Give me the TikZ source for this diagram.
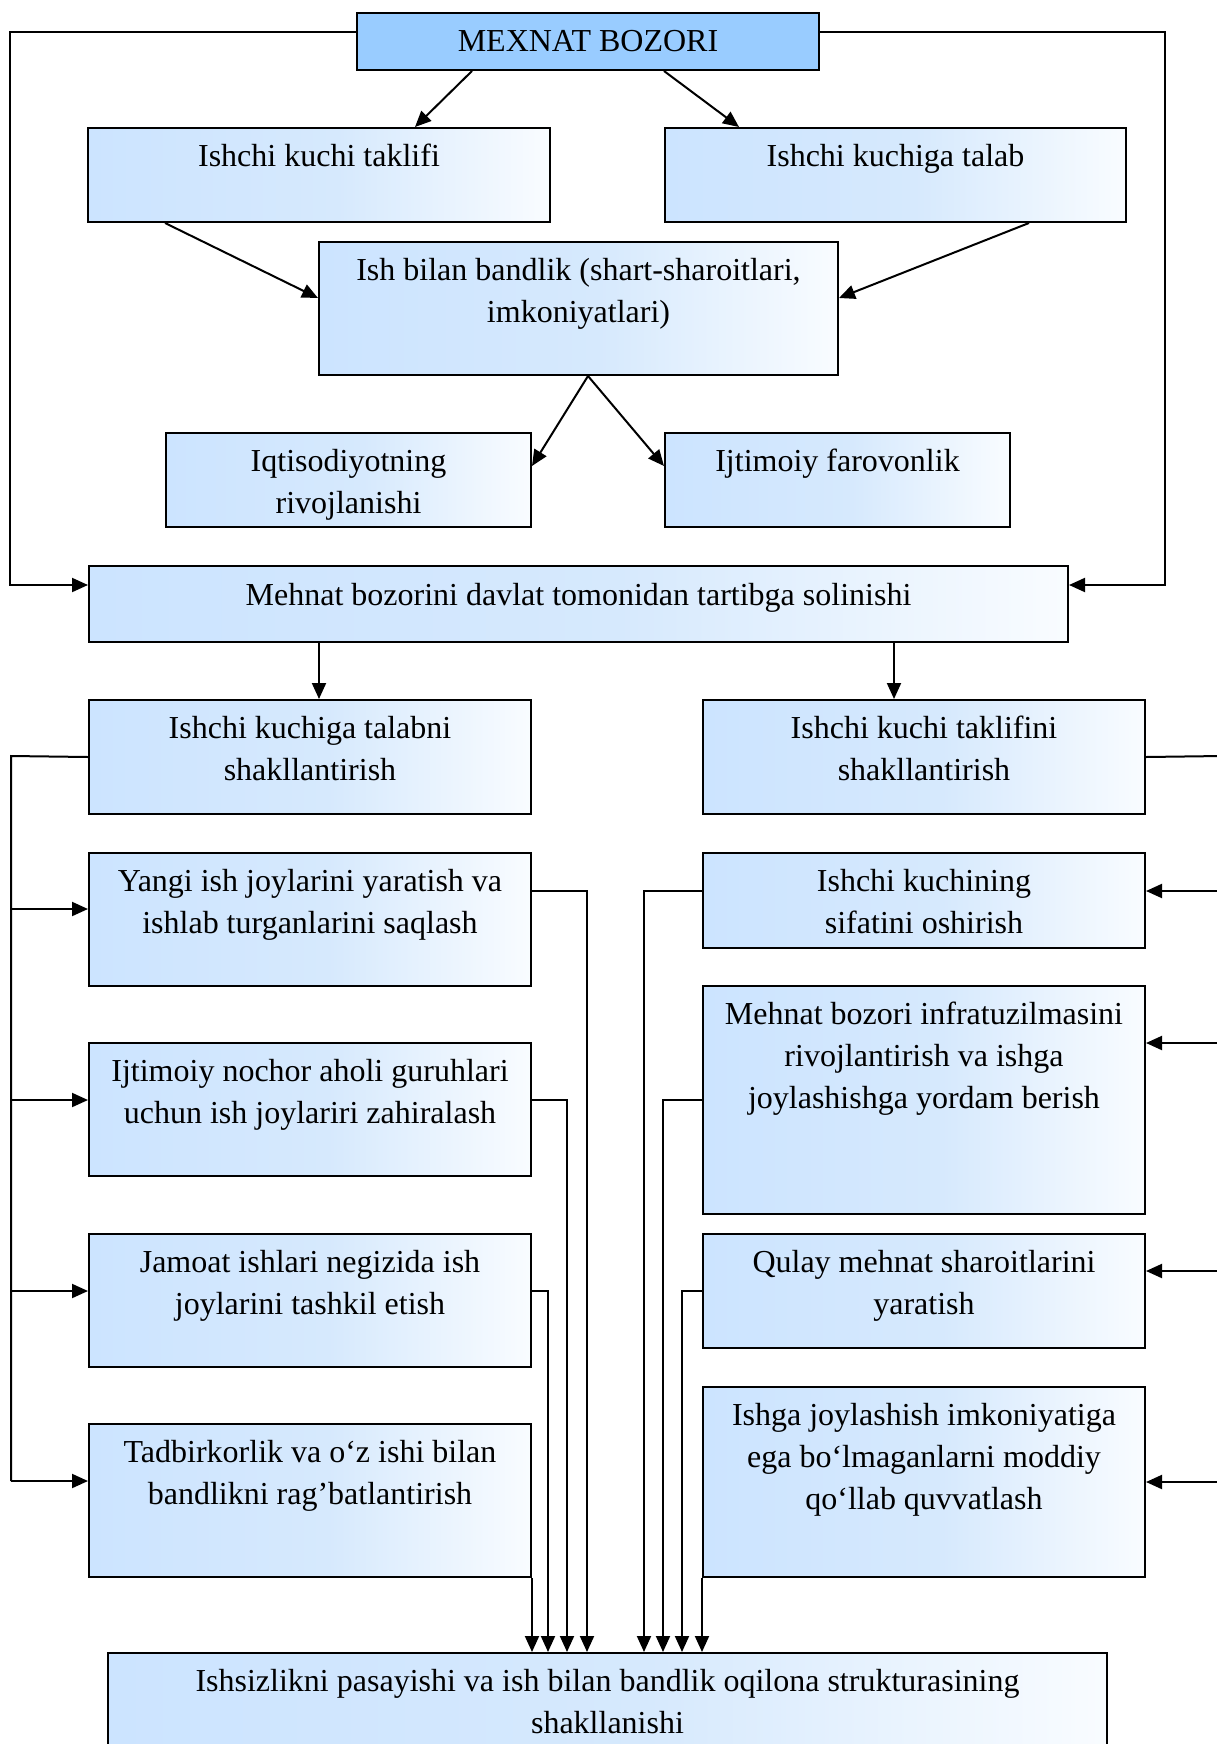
\documentclass[tikz,border=0pt]{standalone}
\usepackage{fontspec}
\setmainfont{Liberation Serif}
\usetikzlibrary{arrows.meta,calc}

\definecolor{boxL}{RGB}{204,228,255}
\definecolor{boxM}{RGB}{214,233,253}
\definecolor{boxR}{RGB}{249,252,255}
\definecolor{topfill}{RGB}{153,204,255}

% light blue fading to white, left to right
\pgfdeclarehorizontalshading{boxfade}{100bp}{%
  color(0bp)=(boxL); color(25bp)=(boxL); color(52bp)=(boxM);
  color(75bp)=(boxR); color(100bp)=(boxR)}

\tikzset{
  box/.style={draw=black, line width=2pt, shading=boxfade, rectangle,
              anchor=north west, inner sep=0pt},
  topbox/.style={draw=black, line width=2pt, fill=topfill, rectangle,
              anchor=north west, inner sep=0pt},
  lbl/.style={anchor=north, align=center, inner sep=0pt,
              font=\fontsize{32}{42}\selectfont},
  conn/.style={line width=2pt, draw=black},
  arr/.style={conn, -{Triangle[length=16pt,width=14pt]}},
}

\begin{document}
\begin{tikzpicture}[x=1pt, y=-1pt]
\useasboundingbox (0,0) rectangle (1217,1744);
\clip (0,0) rectangle (1217,1744);

% ---------- upper part ----------
\node[topbox, minimum width=462pt, minimum height=57pt] (top) at (356,12) {};
\node[lbl] (top-t) at ([yshift=-18pt]top.north) {MEXNAT BOZORI};

\node[box, minimum width=462pt, minimum height=94pt] (kt) at (87,127) {};
\node[lbl] (kt-t) at ([yshift=-17pt]kt.north) {Ishchi kuchi taklifi};

\node[box, minimum width=461pt, minimum height=94pt] (kd) at (664,127) {};
\node[lbl] (kd-t) at ([yshift=-17pt]kd.north) {Ishchi kuchiga talab};

\node[box, minimum width=519pt, minimum height=133pt] (ib) at (318,241) {};
\node[lbl] (ib-t) at ([yshift=-17pt]ib.north) {Ish bilan bandlik (shart-sharoitlari,\\ imkoniyatlari)};

\node[box, minimum width=365pt, minimum height=94pt] (iq) at (165,432) {};
\node[lbl] (iq-t) at ([yshift=-17pt]iq.north) {Iqtisodiyotning\\ rivojlanishi};

\node[box, minimum width=345pt, minimum height=94pt] (if) at (664,432) {};
\node[lbl] (if-t) at ([yshift=-17pt]if.north) {Ijtimoiy farovonlik};

\node[box, minimum width=979pt, minimum height=76pt] (md) at (88,565) {};
\node[lbl] (md-t) at ([yshift=-18pt]md.north) {Mehnat bozorini davlat tomonidan tartibga solinishi};

% ---------- two branches ----------
\node[box, minimum width=442pt, minimum height=114pt] (ts) at (88,699) {};
\node[lbl] (ts-t) at ([yshift=-17pt]ts.north) {Ishchi kuchiga talabni\\ shakllantirish};

\node[box, minimum width=442pt, minimum height=114pt] (tf) at (702,699) {};
\node[lbl] (tf-t) at ([yshift=-17pt]tf.north) {Ishchi kuchi taklifini\\ shakllantirish};

\node[box, minimum width=442pt, minimum height=133pt] (L1) at (88,852) {};
\node[lbl] (L1-t) at ([yshift=-17pt]L1.north) {Yangi ish joylarini yaratish va\\ ishlab turganlarini saqlash};

\node[box, minimum width=442pt, minimum height=133pt] (L2) at (88,1042) {};
\node[lbl] (L2-t) at ([yshift=-17pt]L2.north) {Ijtimoiy nochor aholi guruhlari\\ uchun ish joylariri zahiralash};

\node[box, minimum width=442pt, minimum height=133pt] (L3) at (88,1233) {};
\node[lbl] (L3-t) at ([yshift=-17pt]L3.north) {Jamoat ishlari negizida ish\\ joylarini tashkil etish};

\node[box, minimum width=442pt, minimum height=153pt] (L4) at (88,1423) {};
\node[lbl] (L4-t) at ([yshift=-17pt]L4.north) {Tadbirkorlik va o‘z ishi bilan\\ bandlikni rag’batlantirish};

\node[box, minimum width=442pt, minimum height=95pt] (R1) at (702,852) {};
\node[lbl] (R1-t) at ([yshift=-17pt]R1.north) {Ishchi kuchining\\ sifatini oshirish};

\node[box, minimum width=442pt, minimum height=228pt] (R2) at (702,985) {};
\node[lbl] (R2-t) at ([yshift=-17pt]R2.north) {Mehnat bozori infratuzilmasini\\ rivojlantirish va ishga\\ joylashishga yordam berish};

\node[box, minimum width=442pt, minimum height=114pt] (R3) at (702,1233) {};
\node[lbl] (R3-t) at ([yshift=-17pt]R3.north) {Qulay mehnat sharoitlarini\\ yaratish};

\node[box, minimum width=442pt, minimum height=190pt] (R4) at (702,1386) {};
\node[lbl] (R4-t) at ([yshift=-17pt]R4.north) {Ishga joylashish imkoniyatiga\\ ega bo‘lmaganlarni moddiy\\ qo‘llab quvvatlash};

\node[box, minimum width=999pt, minimum height=140pt] (bot) at (107,1652) {};
\node[lbl] (bot-t) at ([yshift=-17pt]bot.north) {Ishsizlikni pasayishi va ish bilan bandlik oqilona strukturasining\\ shakllanishi};

% ---------- connectors, upper part ----------
\draw[arr] ([xshift=116pt]top.south west) -- ([xshift=328pt]kt.north west);
\draw[arr] ([xshift=308pt]top.south west) -- ([xshift=75pt]kd.north west);
\draw[arr] ([xshift=78pt]kt.south west) -- ([yshift=-57pt]ib.north west);
\draw[arr] ([xshift=365pt]kd.south west) -- ([yshift=-57pt]ib.north east);
\coordinate (ibo) at ([xshift=9.5pt]ib.south);
\draw[arr] (ibo) -- ([yshift=-34pt]iq.north east);
\draw[arr] (ibo) -- ([yshift=-34pt]if.north west);

% side returns into the regulation box
\draw[arr] ([yshift=9.5pt]top.west) -- ++(-346,0) |- ([yshift=19pt]md.west);
\draw[arr] ([yshift=9.5pt]top.east) -- ++(345,0) |- ([yshift=19pt]md.east);

\draw[arr] ([xshift=9pt]ts.north |- md.south) -- ([xshift=9pt]ts.north);
\draw[arr] ([xshift=-30pt]tf.north |- md.south) -- ([xshift=-30pt]tf.north);

% ---------- left bus ----------
\coordinate (lbtop) at (11,756);
\coordinate (lbbot) at (11,1481);
\draw[conn] (ts.west) -- (lbtop) -- (lbbot);
\coordinate (l1in) at ([yshift=10.5pt]L1.west);
\coordinate (l2in) at ([yshift=9.5pt]L2.west);
\coordinate (l3in) at ([yshift=9.5pt]L3.west);
\draw[arr] (l1in -| lbtop) -- (l1in);
\draw[arr] (l2in -| lbtop) -- (l2in);
\draw[arr] (l3in -| lbtop) -- (l3in);
\draw[arr] (lbbot) -- (lbbot -| L4.west);

% ---------- right bus ----------
\coordinate (rb) at (1222,756);
\draw[conn] (tf.east) -- (rb);
\coordinate (r1in) at ([yshift=9.5pt]R1.east);
\coordinate (r2in) at ([yshift=57pt]R2.east);
\coordinate (r3in) at ([yshift=20pt]R3.east);
\coordinate (r4in) at (R4.east);
\draw[arr] (r1in -| rb) -- (r1in);
\draw[arr] (r2in -| rb) -- (r2in);
\draw[arr] (r3in -| rb) -- (r3in);
\draw[arr] (r4in -| rb) -- (r4in);

% ---------- collectors into the result box ----------
\draw[arr] ([yshift=28.5pt]L1.east) -| ([xshift=480pt]bot.north west);
\draw[arr] ([yshift=9.5pt]L2.east) -| ([xshift=460pt]bot.north west);
\draw[arr] ([yshift=9.5pt]L3.east) -| ([xshift=441pt]bot.north west);
\draw[arr] (L4.south east) -- (L4.south east |- bot.north);

\draw[arr] ([yshift=9.5pt]R1.west) -| ([xshift=537pt]bot.north west);
\draw[arr] (R2.west) -| ([xshift=556pt]bot.north west);
\draw[arr] (R3.west) -| ([xshift=575pt]bot.north west);
\draw[arr] (R4.south west) -- (R4.south west |- bot.north);
\end{tikzpicture}
\end{document}
